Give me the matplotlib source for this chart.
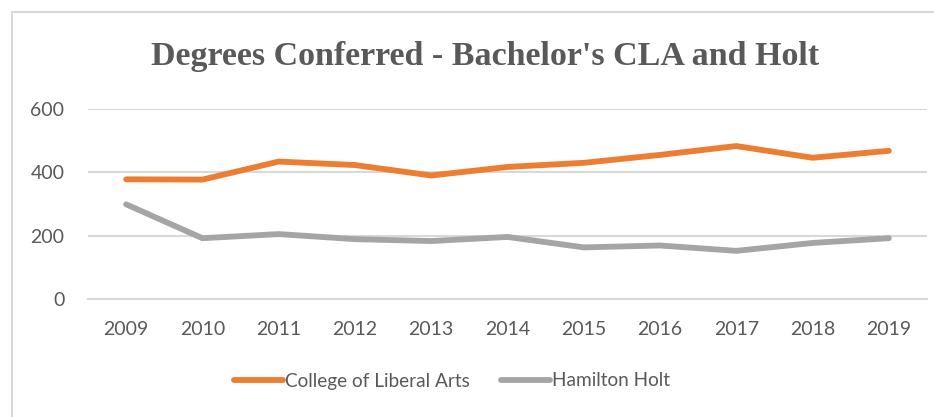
import matplotlib
matplotlib.use("Agg")
import matplotlib.pyplot as plt
from matplotlib.lines import Line2D

years = ["2009", "2010", "2011", "2012", "2013", "2014", "2015", "2016", "2017", "2018", "2019"]
cla = [378, 377, 434, 423, 390, 417, 430, 455, 483, 446, 468]
holt = [299, 192, 205, 189, 183, 196, 163, 169, 152, 177, 192]
yticks = [0, 200, 400, 600]

W, H = 934, 417
fig = plt.figure(figsize=(W / 100, H / 100), dpi=100)
fig.patch.set_facecolor("white")

# chart border (top and left visible)
fig.add_artist(Line2D([12 / W, 12 / W], [0, 1 - 12 / H], color="#d9d9d9", lw=1.5))
fig.add_artist(Line2D([12 / W, 1], [1 - 12 / H, 1 - 12 / H], color="#d9d9d9", lw=1.5))

left, right = 88 / W, 927 / W
y0 = 299  # pixel of value 0
y600 = 109
ax_bottom = 1 - y0 / H
ax_top = 1 - y600 / H
ax = fig.add_axes([left, ax_bottom, right - left, ax_top - ax_bottom])
x = list(range(len(years)))
ax.set_xlim(-0.5, len(years) - 0.5)
ax.set_ylim(0, 600)
ax.set_yticks(yticks)
ax.set_yticklabels([str(v) for v in yticks])
ax.set_xticks(x)
ax.set_xticklabels(years)
ax.set_axisbelow(True)
ax.grid(axis="y", color="#d9d9d9", lw=1.5)
for s in ax.spines.values():
    s.set_visible(False)
ax.spines["bottom"].set_visible(True)
ax.spines["bottom"].set_color("#d9d9d9")
ax.spines["bottom"].set_linewidth(1.5)
ax.tick_params(length=0, labelsize=14, labelcolor="#595959")
ax.tick_params(axis="x", pad=16)
ax.tick_params(axis="y", pad=17)
for lab in ax.get_xticklabels() + ax.get_yticklabels():
    lab.set_family("Lato")

ax.plot(x, cla, color="#ed7d31", lw=4.2, solid_capstyle="round", solid_joinstyle="round",
        label="College of Liberal Arts", clip_on=False)
ax.plot(x, holt, color="#a5a5a5", lw=4.2, solid_capstyle="round", solid_joinstyle="round",
        label="Hamilton Holt", clip_on=False)

fig.text(485 / W, 1 - 56 / H, "Degrees Conferred - Bachelor's CLA and Holt",
         ha="center", va="center", fontsize=24.5, fontweight="bold",
         family="Liberation Serif", color="#595959")

leg = fig.legend(loc="center", bbox_to_anchor=(452 / W, 1 - 381 / H), ncol=2,
                 frameon=False, handlelength=2.6, handletextpad=0.1, columnspacing=1.6,
                 prop={"family": "Lato", "size": 13.7})
for t in leg.get_texts():
    t.set_color("#595959")

fig.savefig("out.png", dpi=100, facecolor="white")
